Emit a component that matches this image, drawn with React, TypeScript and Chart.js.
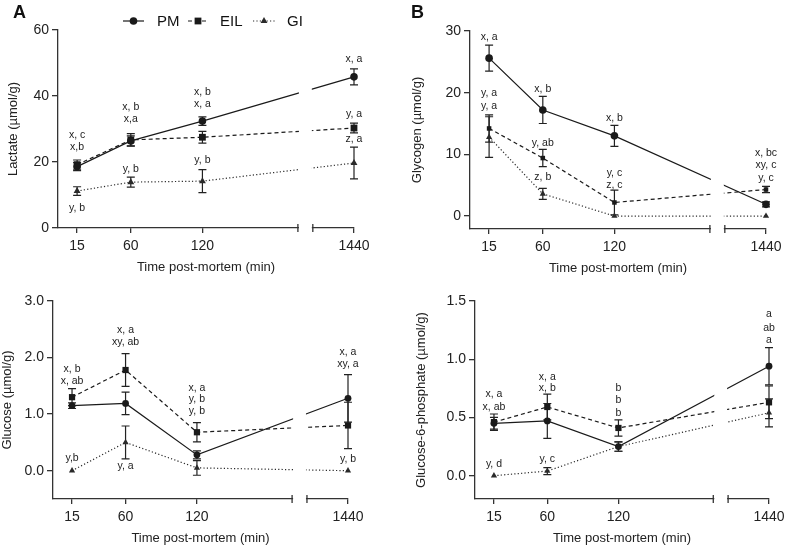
import React, { useEffect, useRef } from "react";
import { Chart, registerables } from "chart.js";
Chart.register(...registerables);

const FONT = "'Liberation Sans', Arial, Helvetica, sans-serif";
Chart.defaults.font.family = FONT;

// ---------- shared axis data ----------
const timeMinutes = [15, 60, 120, 1440];
const timeLabels = ["15", "60", "120", "1440"];
const seriesNames = ["PM", "EIL", "GI"];
const xTitle = "Time post-mortem (min)";

// broken x axis: virtual axis positions
const AXIS_MIN = -1;
const BREAK_FROM = 200;
const BREAK_TO = 212.5;
const AXIS_MAX = 247;
const axisPos = (t: number) => (t > 120 ? AXIS_MAX : t);

// ---------- Panel A: Lactate ----------
const lactatePM = [18.6, 26.4, 32.4, 45.8];
const lactatePMsd = [1.2, 1.5, 1.3, 2.4];
const lactateEIL = [19.2, 26.7, 27.5, 30.3];
const lactateEILsd = [1.4, 1.9, 1.8, 1.5];
const lactateGI = [11.2, 13.9, 14.2, 19.7];
const lactateGIsd = [1.3, 1.5, 3.5, 4.8];
const lactateTicks = [0, 20, 40, 60];
type Note = [number, number, string];
const lactateNotes: Note[] = [
  [0, 28.2, "x, c"], [0, 24.5, "x,b"], [0, 6.1, "y, b"],
  [1, 36.7, "x, b"], [1, 33.0, "x,a"], [1, 17.9, "y, b"],
  [2, 41.2, "x, b"], [2, 37.6, "x, a"], [2, 20.6, "y, b"],
  [3, 51.2, "x, a"], [3, 34.5, "y, a"], [3, 27.0, "z, a"],
];

// ---------- Panel B: Glycogen ----------
const glycogenPM = [25.6, 17.2, 13.0, 1.9];
const glycogenPMsd = [2.1, 2.2, 1.7, 0.4];
const glycogenEIL = [14.2, 9.4, 2.2, 4.3];
const glycogenEILsd = [2.2, 1.4, 2.0, 0.5];
const glycogenGI = [12.8, 3.6, 0.0, 0.0];
const glycogenGIsd = [3.3, 0.9, 0, 0];
const glycogenTicks = [0, 10, 20, 30];
const glycogenNotes: Note[] = [
  [0, 29.0, "x, a"], [0, 19.9, "y, a"], [0, 17.8, "y, a"],
  [1, 20.6, "x, b"], [1, 11.8, "y, ab"], [1, 6.3, "z, b"],
  [2, 15.9, "x, b"], [2, 7.0, "y, c"], [2, 5.0, "z, c"],
  [3, 10.2, "x, bc"], [3, 8.3, "xy, c"], [3, 6.2, "y, c"],
];

// ---------- Panel C: Glucose ----------
const glucosePM = [1.15, 1.19, 0.28, 1.28];
const glucosePMsd = [0.05, 0.2, 0.07, 0.42];
const glucoseEIL = [1.3, 1.78, 0.68, 0.8];
const glucoseEILsd = [0.15, 0.29, 0.17, 0.41];
const glucoseGI = [0.0, 0.5, 0.05, 0.0];
const glucoseGIsd = [0, 0.29, 0.13, 0];
const glucoseTicks = [0, 1, 2, 3];
const glucoseNotes: Note[] = [
  [0, 1.79, "x, b"], [0, 1.58, "x, ab"], [0, 0.23, "y,b"],
  [1, 2.49, "x, a"], [1, 2.27, "xy, ab"], [1, 0.09, "y, a"],
  [2, 1.46, "x, a"], [2, 1.26, "y, b"], [2, 1.05, "y, b"],
  [3, 2.1, "x, a"], [3, 1.88, "xy, a"], [3, 0.2, "y, b"],
];

// ---------- Panel D: Glucose-6-phosphate ----------
const g6pPM = [0.45, 0.47, 0.25, 0.94];
const g6pPMsd = [0.05, 0.15, 0.04, 0.16];
const g6pEIL = [0.46, 0.59, 0.41, 0.63];
const g6pEILsd = [0.07, 0.11, 0.07, 0.14];
const g6pGI = [0.0, 0.04, 0.25, 0.54];
const g6pGIsd = [0, 0.03, 0.04, 0.12];
const g6pTicks = [0, 0.5, 1.0, 1.5];
const g6pNotes: Note[] = [
  [0, 0.7, "x, a"], [0, 0.59, "x, ab"], [0, 0.1, "y, d"],
  [1, 0.85, "x, a"], [1, 0.75, "x, b"], [1, 0.14, "y, c"],
  [2, 0.75, "b"], [2, 0.65, "b"], [2, 0.54, "b"],
  [3, 1.39, "a"], [3, 1.27, "ab"], [3, 1.16, "a"],
];

// ---------- styles ----------
const STYLE = [
  { color: "#1a1a1a", dash: [] as number[], point: "circle" },
  { color: "#1a1a1a", dash: [4, 3], point: "rect" },
  { color: "#2a2a2a", dash: [1.2, 2.2], point: "triangle" },
];

type PanelCfg = {
  yTitle: string;
  yMin: number;
  yMax: number;
  yTicks: number[];
  yDecimals: number;
  values: number[][];
  sds: number[][];
  notes: Note[];
  radii: number[];
  legend?: boolean;
  box: { x: number; y: number; w: number; h: number; aL: number; aT: number; aR: number; aB: number; tPad: number };
};

const panels: PanelCfg[] = [
  {
    yTitle: "Lactate (µmol/g)", yMin: 0, yMax: 60, yTicks: lactateTicks, yDecimals: 0,
    values: [lactatePM, lactateEIL, lactateGI], sds: [lactatePMsd, lactateEILsd, lactateGIsd],
    notes: lactateNotes, radii: [3.8, 4.8, 4], legend: true,
    box: { x: 0, y: 0, w: 393, h: 278, aL: 58, aT: 30, aR: 354, aB: 228, tPad: 6 },
  },
  {
    yTitle: "Glycogen (µmol/g)", yMin: -2.1, yMax: 30, yTicks: glycogenTicks, yDecimals: 0,
    values: [glycogenPM, glycogenEIL, glycogenGI], sds: [glycogenPMsd, glycogenEILsd, glycogenGIsd],
    notes: glycogenNotes, radii: [3.8, 3.2, 3.6],
    box: { x: 393, y: 0, w: 393, h: 278, aL: 77, aT: 31, aR: 373, aB: 229, tPad: 17 },
  },
  {
    yTitle: "Glucose (µmol/g)", yMin: -0.5, yMax: 3, yTicks: glucoseTicks, yDecimals: 1,
    values: [glucosePM, glucoseEIL, glucoseGI], sds: [glucosePMsd, glucoseEILsd, glucoseGIsd],
    notes: glucoseNotes, radii: [3.4, 4.4, 3.6],
    box: { x: 0, y: 275, w: 393, h: 274, aL: 53, aT: 26, aR: 348, aB: 224, tPad: 0 },
  },
  {
    yTitle: "Glucose-6-phosphate (µmol/g)", yMin: -0.2, yMax: 1.5, yTicks: g6pTicks, yDecimals: 1,
    values: [g6pPM, g6pEIL, g6pGI], sds: [g6pPMsd, g6pEILsd, g6pGIsd],
    notes: g6pNotes, radii: [3.4, 4.4, 3.6],
    box: { x: 393, y: 275, w: 393, h: 274, aL: 82, aT: 26, aR: 376, aB: 224, tPad: 21 },
  },
];

function drawMarker(ctx: CanvasRenderingContext2D, kind: string, x: number, y: number, r: number) {
  ctx.beginPath();
  if (kind === "circle") {
    ctx.arc(x, y, r, 0, Math.PI * 2);
  } else if (kind === "rect") {
    const s = r * Math.SQRT1_2;
    ctx.rect(x - s, y - s, 2 * s, 2 * s);
  } else {
    ctx.moveTo(x, y - r);
    ctx.lineTo(x + r * 0.866, y + r / 2);
    ctx.lineTo(x - r * 0.866, y + r / 2);
    ctx.closePath();
  }
  ctx.fill();
}

function makePlugin(cfg: PanelCfg) {
  return {
    id: "extras",
    beforeDatasetsDraw(chart: any) {
      const ctx = chart.ctx as CanvasRenderingContext2D;
      const xs = chart.scales.x;
      const ys = chart.scales.y;
      ctx.save();
      ctx.strokeStyle = "#222";
      ctx.lineWidth = 1.2;
      cfg.values.forEach((vals, i) => {
        vals.forEach((v, j) => {
          const sd = cfg.sds[i][j];
          if (!sd) return;
          const x = xs.getPixelForValue(axisPos(timeMinutes[j]));
          const y1 = ys.getPixelForValue(v + sd);
          const y2 = ys.getPixelForValue(v - sd);
          ctx.beginPath();
          ctx.moveTo(x, y1);
          ctx.lineTo(x, y2);
          ctx.moveTo(x - 4, y1);
          ctx.lineTo(x + 4, y1);
          ctx.moveTo(x - 4, y2);
          ctx.lineTo(x + 4, y2);
          ctx.stroke();
        });
      });
      ctx.restore();
    },
    afterDraw(chart: any) {
      const ctx = chart.ctx as CanvasRenderingContext2D;
      const xs = chart.scales.x;
      const ys = chart.scales.y;
      const area = chart.chartArea;
      const b1 = xs.getPixelForValue(BREAK_FROM);
      const b2 = xs.getPixelForValue(BREAK_TO);
      ctx.save();
      // axis break gap
      ctx.fillStyle = "#ffffff";
      ctx.fillRect(b1 + 1, area.top - 2, b2 - b1 - 2, area.bottom - area.top + 4);
      ctx.strokeStyle = "#333";
      ctx.lineWidth = 1.3;
      ctx.beginPath();
      ctx.moveTo(b1, area.bottom - 4);
      ctx.lineTo(b1, area.bottom + 4);
      ctx.moveTo(b2, area.bottom - 4);
      ctx.lineTo(b2, area.bottom + 4);
      ctx.stroke();
      // significance letters
      ctx.fillStyle = "#222";
      ctx.font = `10.5px ${FONT}`;
      ctx.textAlign = "center";
      ctx.textBaseline = "middle";
      cfg.notes.forEach(([idx, val, txt]) => {
        ctx.fillText(txt, xs.getPixelForValue(axisPos(timeMinutes[idx])), ys.getPixelForValue(val));
      });
      // legend
      if (cfg.legend) {
        const ly = 21;
        const items = [
          { x0: 123, x1: 144, tx: 157 },
          { x0: 188, x1: 208, tx: 220 },
          { x0: 253, x1: 275, tx: 287 },
        ];
        items.forEach((it, i) => {
          const st = STYLE[i];
          ctx.strokeStyle = st.color;
          ctx.lineWidth = 1.2;
          ctx.setLineDash(st.dash);
          ctx.beginPath();
          ctx.moveTo(it.x0, ly);
          ctx.lineTo(it.x1, ly);
          ctx.stroke();
          ctx.setLineDash([]);
          ctx.fillStyle = st.color;
          drawMarker(ctx, st.point, (it.x0 + it.x1) / 2, ly, cfg.radii[i]);
          ctx.fillStyle = "#111";
          ctx.font = `15px ${FONT}`;
          ctx.textAlign = "left";
          ctx.textBaseline = "middle";
          ctx.fillText(seriesNames[i], it.tx, ly + 0.5);
        });
      }
      ctx.restore();
    },
  };
}

function Panel({ cfg }: { cfg: PanelCfg }) {
  const ref = useRef<HTMLCanvasElement>(null);
  const B = cfg.box;
  useEffect(() => {
    const X_AXIS_H = 47;
    const chart = new Chart(ref.current!, {
      type: "line",
      data: {
        datasets: cfg.values.map((vals, i) => ({
          label: seriesNames[i],
          data: vals.map((v, j) => ({ x: axisPos(timeMinutes[j]), y: v })),
          borderColor: STYLE[i].color,
          backgroundColor: STYLE[i].color,
          borderWidth: 1.2,
          borderDash: STYLE[i].dash,
          pointStyle: STYLE[i].point as any,
          pointRadius: cfg.radii[i],
          pointHoverRadius: cfg.radii[i],
          pointBorderWidth: 0,
          tension: 0,
          fill: false,
          clip: false as any,
        })),
      },
      options: {
        animation: false,
        responsive: false,
        events: [],
        layout: {
          padding: { left: 0, top: B.aT, right: B.w - B.aR, bottom: B.h - B.aB - X_AXIS_H },
        },
        plugins: { legend: { display: false }, tooltip: { enabled: false } },
        scales: {
          x: {
            type: "linear",
            min: AXIS_MIN,
            max: AXIS_MAX,
            afterBuildTicks: (s: any) => {
              s.ticks = timeMinutes.map((t) => ({ value: axisPos(t) }));
            },
            afterFit: (s: any) => {
              s.height = X_AXIS_H;
              s.paddingLeft = 0;
              s.paddingRight = 0;
            },
            ticks: {
              autoSkip: false,
              maxRotation: 0,
              color: "#222",
              padding: 5,
              font: { size: 14 },
              callback: (_v: any, i: number) => timeLabels[i],
            },
            grid: { display: true, drawOnChartArea: false, drawTicks: true, tickLength: 5, color: "#333", lineWidth: 1.3 },
            border: { display: true, color: "#333", width: 1.3 },
            title: { display: true, text: xTitle, color: "#222", font: { size: 13 }, padding: { top: 0, bottom: 0 } },
          },
          y: {
            type: "linear",
            min: cfg.yMin,
            max: cfg.yMax,
            afterBuildTicks: (s: any) => {
              s.ticks = cfg.yTicks.map((v) => ({ value: v }));
            },
            afterFit: (s: any) => {
              s.width = B.aL;
              s.paddingTop = 0;
              s.paddingBottom = 0;
            },
            ticks: {
              color: "#222",
              padding: 3,
              font: { size: 14 },
              callback: (v: any) => Number(v).toFixed(cfg.yDecimals),
            },
            grid: { display: true, drawOnChartArea: false, drawTicks: true, tickLength: 6, color: "#333", lineWidth: 1.3 },
            border: { display: true, color: "#333", width: 1.3 },
            title: { display: true, text: cfg.yTitle, color: "#222", font: { size: 13 }, padding: { top: B.tPad, bottom: 0 } },
          },
        },
      } as any,
      plugins: [makePlugin(cfg) as any],
    });
    return () => chart.destroy();
  }, []);
  return (
    <canvas
      ref={ref}
      width={B.w}
      height={B.h}
      style={{ position: "absolute", left: B.x, top: B.y, width: B.w, height: B.h }}
    />
  );
}

export default function App() {
  const letter: React.CSSProperties = {
    position: "absolute",
    fontFamily: FONT,
    fontWeight: "bold",
    fontSize: 18,
    lineHeight: "18px",
    color: "#111",
  };
  return (
    <div style={{ position: "absolute", left: 0, top: 0, width: 786, height: 549, background: "#fff" }}>
      {panels.map((p, i) => (
        <Panel key={i} cfg={p} />
      ))}
      <div style={{ ...letter, left: 13, top: 3 }}>A</div>
      <div style={{ ...letter, left: 411, top: 3 }}>B</div>
    </div>
  );
}
